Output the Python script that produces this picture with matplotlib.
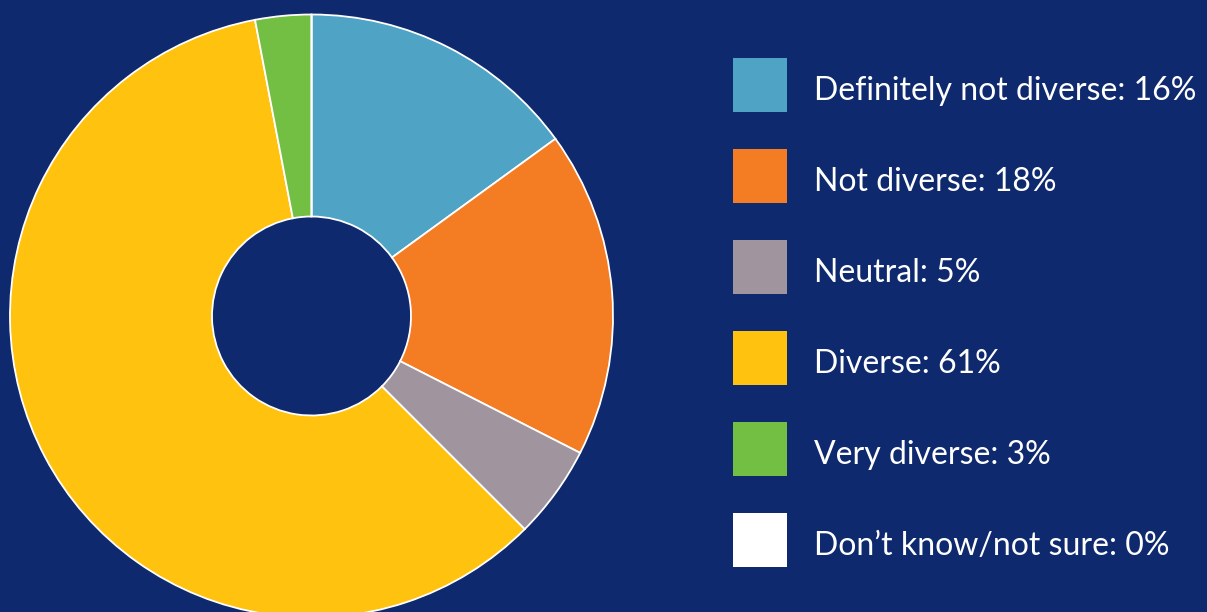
import matplotlib
matplotlib.use('Agg')
import matplotlib.pyplot as plt
from matplotlib.patches import Rectangle

# survey answers
labels = ['Definitely not diverse', 'Not diverse', 'Neutral', 'Diverse',
          'Very diverse', "Don\u2019t know/not sure"]
label_pct = [16, 18, 5, 61, 3, 0]
# slice sizes as drawn in the picture (labels are rounded differently)
shares = [15.0, 17.5, 5.0, 59.5, 3.0, 0.0]
colors = ['#4FA3C4', '#F47C22', '#A0959F', '#FFC20E', '#72BF44', '#FFFFFF']
bg = '#0E296E'

W, H = 1207, 612
fig = plt.figure(figsize=(W / 100, H / 100), dpi=100, facecolor=bg)

# donut axes, placed in pixels
cx, cy, r = 311.5, 316, 301.5
ax = fig.add_axes([(cx - r) / W, (H - cy - r) / H, 2 * r / W, 2 * r / H])
ax.set_facecolor(bg)
ax.pie(shares, colors=colors, startangle=90, counterclock=False, radius=1,
       wedgeprops=dict(width=1 - 0.33, edgecolor='white', linewidth=1.3))
ax.set_xlim(-1, 1)
ax.set_ylim(-1, 1)
ax.set_aspect('equal')
ax.axis('off')

# legend drawn by hand
sq = 54
for i, (lab, val, col) in enumerate(zip(labels, label_pct, colors)):
    yc = 85 + i * 91
    fig.patches.append(Rectangle((733 / W, (H - yc - sq / 2) / H), sq / W, sq / H,
                                 transform=fig.transFigure, facecolor=col,
                                 edgecolor='none'))
    fig.text(814 / W, (H - yc - 15) / H, f'{lab}: {val}%', color='white',
             fontsize=23, family='Lato', va='baseline', ha='left')

fig.savefig('out.png', dpi=100, facecolor=bg)
